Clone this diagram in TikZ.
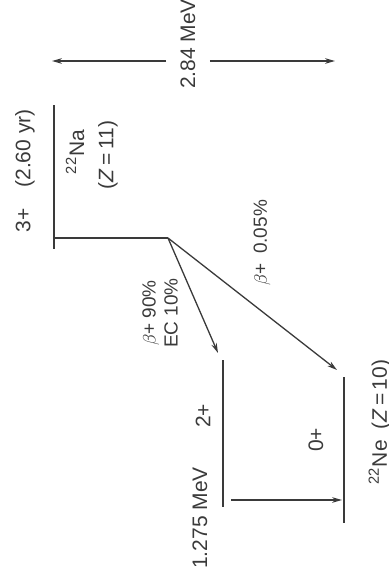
\documentclass[tikz,border=0pt]{standalone}
\usepackage{fontspec}
\setmainfont{Liberation Sans}
\usetikzlibrary{positioning,arrows.meta}
\definecolor{ink}{HTML}{3A3A3A}

\begin{document}
\begin{tikzpicture}[x=0.5pt, y=-0.5pt,
  lvl/.style={line width=0.9pt, color=ink},
  lab/.style={rotate=90, text=ink, inner sep=0pt,
              font=\fontsize{10.5}{12.5}\selectfont},
  sm/.style={lab, align=center, font=\fontsize{9.5}{11}\selectfont},
  arr/.style={-{Stealth[length=5pt,width=2.8pt]}, line width=0.65pt,
              color=ink}]
  \useasboundingbox (0,0) rectangle (389,578);
  % 22Na
  \coordinate (na1) at (54,105);
  \coordinate (na2) at (54,249);
  \coordinate (nak) at (54,238);
  \coordinate (src) at (168,238);
  \draw[lvl] (na1) -- (na2);
  \draw[lvl] (nak) -- (src);
  \node[lab] (spin3) at (25,171) {3+\quad(2.60 yr)};
  \node[lab] (na)    at (75,152) {\textsuperscript{22}Na};
  \node[lab] (zna)   at (108,155) {(\textit{Z}\,=\,11)};
  % Q value
  \node[lab, inner sep=7pt] (q) at (188,44) {2.84 MeV};
  \coordinate (qa) at (52,61);
  \coordinate (qb) at (335,61);
  \draw[arr] (q.north |- qa) -- (qa);
  \draw[arr] (q.south |- qb) -- (qb);
  % 22Ne levels
  \coordinate (ex1) at (223,360);
  \coordinate (ex2) at (223,507);
  \coordinate (gs1) at (344,377);
  \coordinate (gs2) at (344,523);
  \draw[lvl] (ex1) -- (ex2);
  \draw[lvl] (gs1) -- (gs2);
  \node[lab] (spin2) at (203,416) {2+};
  \node[lab] (en)    at (200,518) {1.275 MeV};
  \node[lab] (spin0) at (316,440) {0+};
  \node[lab] (ne)    at (380,422) {\textsuperscript{22}Ne\enspace(\textit{Z}\,=\,10)};
  % decays
  \coordinate (t1) at (218,353);
  \coordinate (t2) at (337,370);
  \coordinate (gs) at (231,500);
  \coordinate (ge) at (342,500);
  \foreach \a/\b in {src/t1,src/t2,gs/ge}
    {\draw[arr] (\a) -- (\b);}
  \node[sm] (br1) at (160,313) {$\beta$+ 90\%\\EC 10\%};
  \node[sm] (br2) at (262,243) {$\beta$+\enspace 0.05\%};
\end{tikzpicture}
\end{document}
